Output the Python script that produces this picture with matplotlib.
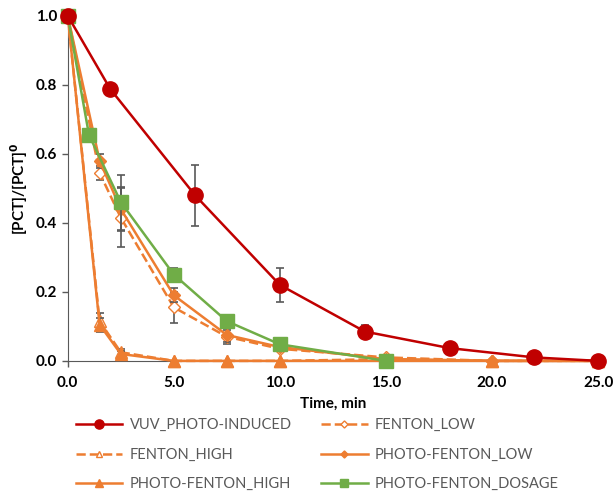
import numpy as np
import matplotlib
matplotlib.use('Agg')
import matplotlib.pyplot as plt
from matplotlib.ticker import FormatStrFormatter

plt.rcParams['font.family'] = ['Lato', 'DejaVu Sans']

# data
t_vuv = [0, 2, 6, 10, 14, 18, 22, 25]
vuv = [1.0, 0.788, 0.48, 0.22, 0.085, 0.037, 0.01, 0.0]
vuv_err = [0, 0, 0.088, 0.05, 0.02, 0, 0, 0]

t_f = [0, 1.5, 2.5, 5, 7.5, 10, 15, 20, 25]
fenton_low = [1.0, 0.545, 0.415, 0.155, 0.07, 0.035, 0.01, 0.0, 0.0]
fenton_low_err = [0, 0.02, 0.085, 0.045, 0.02, 0, 0, 0, 0]
fenton_high = [1.0, 0.115, 0.025, 0.0, 0.0, 0.0, 0.005, 0.0, 0.0]
fenton_high_err = [0, 0.025, 0.01, 0, 0, 0, 0, 0, 0]
pf_low = [1.0, 0.58, 0.44, 0.19, 0.075, 0.04, 0.005, 0.0, 0.0]
pf_low_err = [0, 0.02, 0.065, 0.02, 0.02, 0, 0, 0, 0]
pf_high = [1.0, 0.105, 0.02, 0.0, 0.0, 0.0, 0.0, 0.0, 0.0]
pf_high_err = [0, 0.02, 0.01, 0, 0, 0, 0, 0, 0]

t_dos = [0, 1, 2.5, 5, 7.5, 10, 15]
pf_dosage = [1.0, 0.655, 0.46, 0.25, 0.115, 0.048, 0.0]
pf_dosage_err = [0, 0, 0.08, 0.02, 0.015, 0, 0]

red = '#C00000'
orange = '#ED7D31'
green = '#70AD47'
ecol = '#595959'

fig = plt.figure(figsize=(6.16, 4.93), dpi=100)
ax = fig.add_axes([0.11, 0.268, 0.861, 0.7])

ekw = dict(ecolor=ecol, elinewidth=1.2, capsize=3, capthick=1.2)

ax.errorbar(t_f, fenton_high, yerr=fenton_high_err, color=orange, lw=1.8, ls='--', marker='^', ms=8,
            mfc='white', mec=orange, label='FENTON_HIGH', zorder=3, **ekw)
ax.errorbar(t_f, pf_high, yerr=pf_high_err, color=orange, lw=1.8, marker='^', ms=9,
            label='PHOTO-FENTON_HIGH', zorder=3.5, **ekw)
ax.errorbar(t_f, fenton_low, yerr=fenton_low_err, color=orange, lw=1.8, ls='--', marker='D', ms=6,
            mfc='white', mec=orange, label='FENTON_LOW', zorder=3, **ekw)
ax.errorbar(t_f, pf_low, yerr=pf_low_err, color=orange, lw=1.8, marker='D', ms=6,
            label='PHOTO-FENTON_LOW', zorder=4, **ekw)
ax.errorbar(t_dos, pf_dosage, yerr=pf_dosage_err, color=green, lw=1.8, marker='s', ms=10,
            label='PHOTO-FENTON_DOSAGE', zorder=5, **ekw)
ax.errorbar(t_vuv, vuv, yerr=vuv_err, color=red, lw=1.8, marker='o', ms=11,
            label='VUV_PHOTO-INDUCED', zorder=6, **ekw)

ax.set_xlim(0, 25)
ax.set_ylim(0, 1.0)
ax.set_xticks(np.arange(0, 26, 5))
ax.set_yticks(np.arange(0, 1.01, 0.2))
ax.xaxis.set_major_formatter(FormatStrFormatter('%.1f'))
ax.yaxis.set_major_formatter(FormatStrFormatter('%.1f'))
for lab in ax.get_xticklabels() + ax.get_yticklabels():
    lab.set_fontweight('bold')
    lab.set_fontsize(11)
ax.tick_params(direction='out', length=4, color='#595959', width=1)
ax.tick_params(axis='x', pad=7)
ax.spines['top'].set_visible(False)
ax.spines['right'].set_visible(False)
ax.spines['left'].set_color('#595959')
ax.spines['bottom'].set_color('#595959')
for art in ax.get_children():
    try:
        art.set_clip_on(False)
    except Exception:
        pass

ax.set_xlabel('Time, min', fontsize=11, fontweight='bold', labelpad=5)
ax.set_ylabel('[PCT]/[PCT]$^{\\mathbf{0}}$', fontsize=11, fontweight='bold')

handles, labels = ax.get_legend_handles_labels()
order = ['VUV_PHOTO-INDUCED', 'FENTON_HIGH', 'PHOTO-FENTON_HIGH',
         'FENTON_LOW', 'PHOTO-FENTON_LOW', 'PHOTO-FENTON_DOSAGE']
hmap = dict(zip(labels, handles))
h = [hmap[l][0] for l in order]
leg = fig.legend(h, order, loc='upper center', bbox_to_anchor=(0.515, 0.178), ncol=2,
                 frameon=False, fontsize=10.5, labelcolor='#595959', markerscale=0.6,
                 handlelength=3.2, handletextpad=0.5, columnspacing=2.0, labelspacing=1.05)

fig.savefig('out.png', dpi=100)
